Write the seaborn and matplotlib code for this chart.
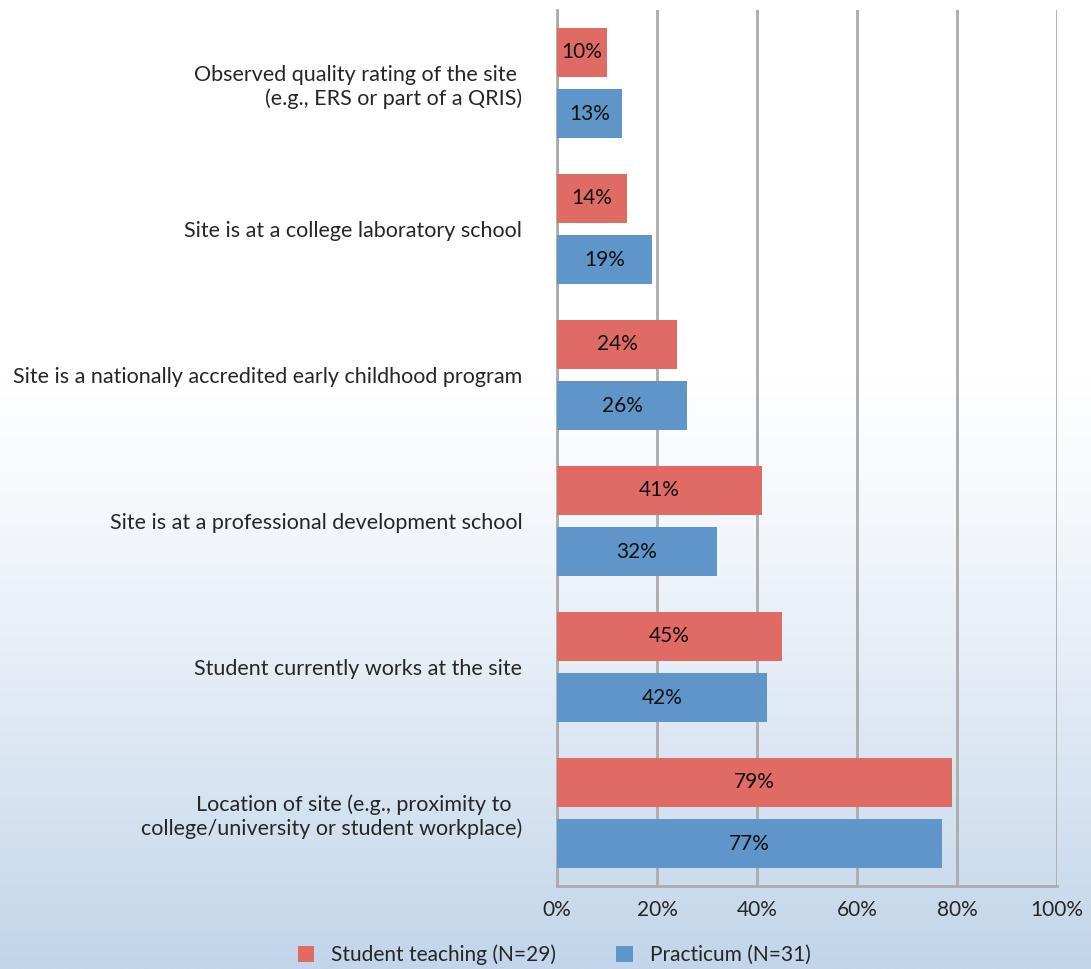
import numpy as np
import pandas as pd
import matplotlib.pyplot as plt
import seaborn as sns
from matplotlib.colors import LinearSegmentedColormap

categories = [
    "Observed quality rating of the site \n(e.g., ERS or part of a QRIS)",
    "Site is at a college laboratory school",
    "Site is a nationally accredited early childhood program",
    "Site is at a professional development school",
    "Student currently works at the site",
    "Location of site (e.g., proximity to  \ncollege/university or student workplace)",
]
student_teaching = [10, 14, 24, 41, 45, 79]
practicum = [13, 19, 26, 32, 42, 77]
series_names = ["Student teaching (N=29)", "Practicum (N=31)"]
x_ticks = [0, 20, 40, 60, 80, 100]

red = "#e06b64"
blue = "#5f95c9"
grid_col = "#ababab"


def main():
    df = pd.DataFrame({
        "Category": categories * 2,
        "Value": student_teaching + practicum,
        "Series": [series_names[0]] * len(categories) + [series_names[1]] * len(categories),
    })

    sns.set_style("white")
    plt.rcParams["font.family"] = ["Lato", "DejaVu Sans"]

    fig = plt.figure(figsize=(10.91, 9.69), dpi=100)

    # background gradient (white on top, light blue at the bottom)
    bg = fig.add_axes([0, 0, 1, 1], zorder=-10)
    t = np.linspace(0, 1, 400)
    t = np.clip((t - 0.38) / 0.62, 0, 1) ** 1.2
    cmap = LinearSegmentedColormap.from_list("bg", ["#ffffff", "#c2d5ea"])
    bg.imshow(t[:, None], aspect="auto", cmap=cmap, extent=[0, 1, 0, 1], vmin=0, vmax=1)
    bg.axis("off")

    ax = fig.add_axes([557 / 1091, 1 - 886 / 969, 500 / 1091, 876 / 969])
    ax.patch.set_alpha(0)
    ax.set_axisbelow(True)

    sns.barplot(data=df, y="Category", x="Value", hue="Series", orient="h",
                palette=[red, blue], width=0.836, gap=0.21, ax=ax,
                saturation=1, legend=True, linewidth=0, zorder=3)

    for cont in ax.containers:
        ax.bar_label(cont, labels=[f"{v:.0f}%" for v in cont.datavalues],
                     label_type="center", fontsize=15, color="#111111")

    ax.set_xlim(0, 100)
    ax.set_xticks(x_ticks)
    ax.set_xticklabels([f"{v}%" for v in x_ticks], fontsize=15)
    ax.xaxis.grid(True, color=grid_col, linewidth=2, zorder=0)
    ax.yaxis.grid(False)
    ax.tick_params(axis="x", length=0, pad=10)
    ax.tick_params(axis="y", length=0, pad=25, labelsize=15.5)
    for lab in ax.get_yticklabels():
        lab.set_horizontalalignment("right")
        lab.set_multialignment("right")
    for side in ["top", "right"]:
        ax.spines[side].set_visible(False)
    for side in ["left", "bottom"]:
        ax.spines[side].set_color(grid_col)
        ax.spines[side].set_linewidth(2)
    ax.set_xlabel("")
    ax.set_ylabel("")

    handles, labels = ax.get_legend_handles_labels()
    ax.legend_.remove()
    fig.legend(handles, labels, loc="center", bbox_to_anchor=(0.508, 1 - 955 / 969),
               ncol=2, frameon=False, fontsize=15, handlelength=0.8, handleheight=0.8,
               columnspacing=2.9, handletextpad=0.8)

    plt.savefig("out.png", dpi=100)


if __name__ == "__main__":
    main()
